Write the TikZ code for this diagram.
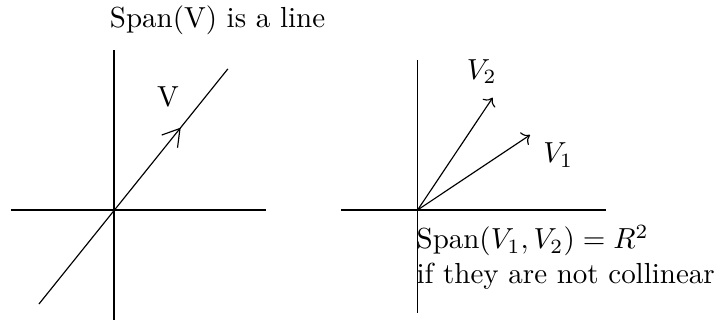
\documentclass[tikz,border=0pt]{standalone}
\usetikzlibrary{arrows.meta,decorations.markings}

\begin{document}
\begin{tikzpicture}
    \useasboundingbox (-1.382,-1.345) rectangle (7.321,2.545);

    % Left: span of one vector
    \coordinate (O) at (0,0);
    \draw (-1.25,0) -- (1.84,0);
    \draw (0,-1.33) -- (0,1.94);
    \draw[postaction={decorate}, decoration={markings,
        mark=at position 0.751 with {\arrow{Straight Barb[length=5.7pt,width=7pt]}}}]
        (-0.91,-1.14) -- (1.38,1.71);
    \node (v) at (0.655,1.37) {V};
    \node (title) at (1.255,2.295) {Span(V) is a line};

    % Right: span of two vectors
    \coordinate (Q) at (3.68,0);
    \draw (2.752,0) -- (5.96,0);
    \draw (3.68,-1.248) -- (3.68,1.818);
    \draw[->] (Q) -- (5.042,0.909);
    \draw[->] (Q) -- (4.59,1.361);
    \node (v1) at (5.385,0.667) {$V_1$};
    \node (v2) at (4.457,1.676) {$V_2$};
    \node[anchor=north west, inner sep=0pt, align=left] (span) at (3.661,-0.179)
        {Span$(V_1,V_2) = R^2$\\if they are not collinear};
\end{tikzpicture}
\end{document}
